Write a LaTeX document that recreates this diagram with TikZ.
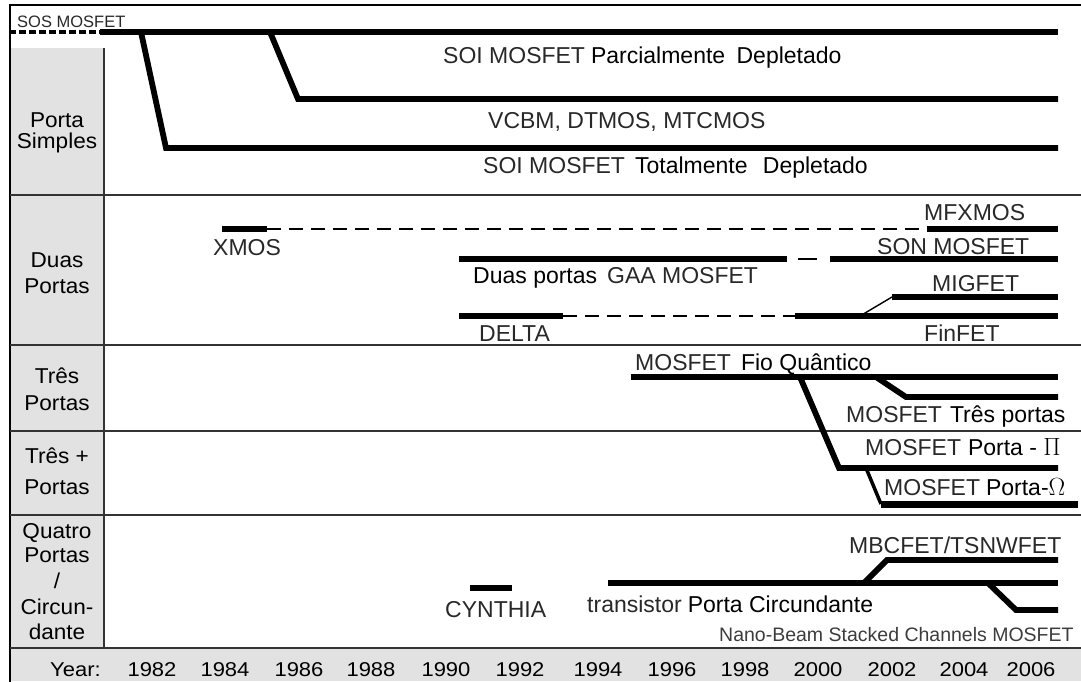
\documentclass[tikz,border=0pt]{standalone}
\usepackage{fontspec}
\setmainfont{Liberation Sans}
\newfontfamily\widefont{Liberation Sans}[FakeStretch=1.05]
\newfontfamily\yearfont{Liberation Sans}[FakeStretch=1.1]
\definecolor{colgray}{RGB}{226,226,226}
\definecolor{engtext}{RGB}{40,40,40}
\definecolor{nbtext}{RGB}{60,60,60}
\newcommand{\pw}[1]{{\color{black}#1}}
\begin{document}
\begin{tikzpicture}[x=1pt,y=-1pt,
  tl/.style={line width=5.8pt, line join=miter},
  dl/.style={line width=2.6pt, dash pattern=on 14pt off 8pt},
  sosdash/.style={line width=4.5pt, dash pattern=on 7pt off 3pt},
  thin/.style={line width=1.4pt},
  sepline/.style={line width=1.3pt, draw=black!80},
  lbl/.style={font=\fontsize{23}{23}\selectfont, text=engtext, inner sep=0pt, anchor=base west},
  rowlbl/.style={font=\widefont\fontsize{21.5}{21.5}\selectfont, inner sep=0pt, anchor=base},
  yr/.style={font=\yearfont\fontsize{20}{20}\selectfont, inner sep=0pt, anchor=base}]
\useasboundingbox (0,0) rectangle (1081,681);
% backgrounds
\fill[colgray] (11,48) rectangle (104,648);
\fill[colgray] (11,648) rectangle (1081,681);
% frame and separators
\draw[line width=2pt] (10,682) -- (10,5) -- (1082,5);
\draw[sepline] (104,48) -- (104,648);
\foreach \yy in {195,345,431,515,648} \draw[sepline] (10,\yy) -- (1081,\yy);

% ---------- Porta Simples ----------
\coordinate (sosA) at (9,32);
\coordinate (sosB) at (100,32);
\coordinate (pdE) at (1058,32);
\coordinate (fdA) at (141,32);
\coordinate (fdB) at (166,148);
\coordinate (fdE) at (1058,148);
\coordinate (vcA) at (270,32);
\coordinate (vcB) at (298,99);
\coordinate (vcE) at (1058,99);
\draw[sosdash] (sosA) -- (sosB);
\draw[tl] (sosB) -- (pdE);
\draw[tl] (fdA) -- (fdB) -- (fdE);
\draw[tl] (vcA) -- (vcB) -- (vcE);
\node[lbl, font=\fontsize{16.5}{16.5}\selectfont] (sos) at (17,27) {SOS MOSFET};
\node[lbl] (pd) at (443,63) {SOI MOSFET\hspace{6pt}\pw{Parcialmente\hspace{5pt} Depletado}};
\node[lbl] (vc) at (488,128) {VCBM, DTMOS, MTCMOS};
\node[lbl] (fd) at (483,173) {SOI MOSFET\hspace{10pt}\pw{Totalmente\hspace{9pt} Depletado}};

% ---------- Duas Portas ----------
\coordinate (xmA) at (222,229);
\coordinate (xmB) at (267,229);
\coordinate (mfA) at (927,229);
\coordinate (mfE) at (1058,229);
\coordinate (gaA) at (459,259);
\coordinate (gaB) at (787,259);
\coordinate (snA) at (830,259);
\coordinate (snE) at (1058,259);
\coordinate (dlA) at (459,316);
\coordinate (dlB) at (563,316);
\coordinate (ffA) at (795,316);
\coordinate (ffE) at (1058,316);
\coordinate (mgJ) at (860,316);
\coordinate (mgA) at (892,297);
\coordinate (mgE) at (1058,297);
\draw[tl] (xmA) -- (xmB);
\draw[dl] (xmB) -- (mfA);
\draw[tl] (mfA) -- (mfE);
\draw[tl] (gaA) -- (gaB);
\draw[line width=2.6pt, shorten <=11pt, shorten >=13pt] (gaB) -- (snA);
\draw[tl] (snA) -- (snE);
\draw[tl] (dlA) -- (dlB);
\draw[dl] (dlB) -- (ffA);
\draw[tl] (ffA) -- (ffE);
\draw[thin] (mgJ) -- (mgA);
\draw[tl] (mgA) -- (mgE);
\node[lbl] (xmos) at (213,255) {XMOS};
\node[lbl] (mfx) at (924,220) {MFXMOS};
\node[lbl] (son) at (877,254) {SON MOSFET};
\node[lbl] (gaa) at (473,283) {\pw{Duas portas}\hspace{10pt}GAA MOSFET};
\node[lbl] (mig) at (932,291) {MIGFET};
\node[lbl] (delta) at (479,341) {DELTA};
\node[lbl] (fin) at (924,341) {FinFET};

% ---------- Tres Portas / Tres + Portas ----------
\coordinate (fqA) at (631,377);
\coordinate (fqE) at (1058,377);
\coordinate (tpA) at (876,377);
\coordinate (tpB) at (906,397);
\coordinate (tpE) at (1058,397);
\coordinate (piA) at (800,377);
\coordinate (piB) at (839,468);
\coordinate (piE) at (1058,468);
\coordinate (omA) at (866,468);
\coordinate (omB) at (881,504);
\coordinate (omE) at (1078,504);
\draw[tl] (fqA) -- (fqE);
\draw[tl] (tpA) -- (tpB) -- (tpE);
\draw[tl] (piA) -- (piB) -- (piE);
\draw[line width=3.5pt] (omA) -- (omB);
\draw[line width=7pt] (omB) -- (omE);
\node[lbl] (fq) at (635,370) {MOSFET\hspace{10pt}\pw{Fio Quântico}};
\node[lbl] (tp) at (846,422) {MOSFET\hspace{8pt}\pw{Três portas}};
\node[lbl] (pi) at (865,455) {MOSFET\hspace{7pt}\pw{Porta - $\Pi$}};
\node[lbl] (om) at (884,495) {MOSFET\hspace{6pt}\pw{Porta-$\Omega$}};

% ---------- Quatro Portas ----------
\coordinate (cyA) at (470,588);
\coordinate (cyB) at (512,588);
\coordinate (pcA) at (608,583);
\coordinate (pcE) at (1058,583);
\coordinate (mbJ) at (864,583);
\coordinate (mbA) at (887,560);
\coordinate (mbE) at (1058,560);
\coordinate (nbJ) at (988,583);
\coordinate (nbA) at (1016,610);
\coordinate (nbE) at (1058,610);
\draw[tl] (cyA) -- (cyB);
\draw[tl] (pcA) -- (pcE);
\draw[tl] (mbJ) -- (mbA) -- (mbE);
\draw[tl] (nbJ) -- (nbA) -- (nbE);
\node[lbl] (cy) at (445,617) {CYNTHIA};
\node[lbl] (pc) at (587,612) {transistor\hspace{6pt}\pw{Porta Circundante}};
\node[lbl] (mb) at (849,553) {MBCFET/TSNWFET};
\node[lbl, font=\fontsize{19.5}{19.5}\selectfont, text=nbtext] (nb) at (719,641) {Nano-Beam Stacked Channels MOSFET};

% ---------- Row labels ----------
\node[rowlbl] (r1a) at (57,127) {Porta};
\node[rowlbl] (r1b) at (57,148) {Simples};
\node[rowlbl] (r2a) at (57,267) {Duas};
\node[rowlbl] (r2b) at (57,293) {Portas};
\node[rowlbl] (r3a) at (57,383) {Três};
\node[rowlbl] (r3b) at (57,410) {Portas};
\node[rowlbl] (r4a) at (57,463) {Três +};
\node[rowlbl] (r4b) at (57,494) {Portas};
\node[rowlbl] (r5a) at (57,538) {Quatro};
\node[rowlbl] (r5b) at (57,562) {Portas};
\node[rowlbl] (r5c) at (57,588) {/};
\node[rowlbl] (r5d) at (57,614) {Circun-};
\node[rowlbl] (r5e) at (57,639) {dante};

% ---------- Years ----------
\node[yr, anchor=base west] (year) at (50,676) {Year:};
\node[yr] (y82) at (152,676) {1982};
\node[yr] (y84) at (225,676) {1984};
\node[yr] (y86) at (299,676) {1986};
\node[yr] (y88) at (371,676) {1988};
\node[yr] (y90) at (446,676) {1990};
\node[yr] (y92) at (520,676) {1992};
\node[yr] (y94) at (598,676) {1994};
\node[yr] (y96) at (672,676) {1996};
\node[yr] (y98) at (745,676) {1998};
\node[yr] (y00) at (818,676) {2000};
\node[yr] (y02) at (892,676) {2002};
\node[yr] (y04) at (964,676) {2004};
\node[yr] (y06) at (1031,676) {2006};
\end{tikzpicture}
\end{document}
